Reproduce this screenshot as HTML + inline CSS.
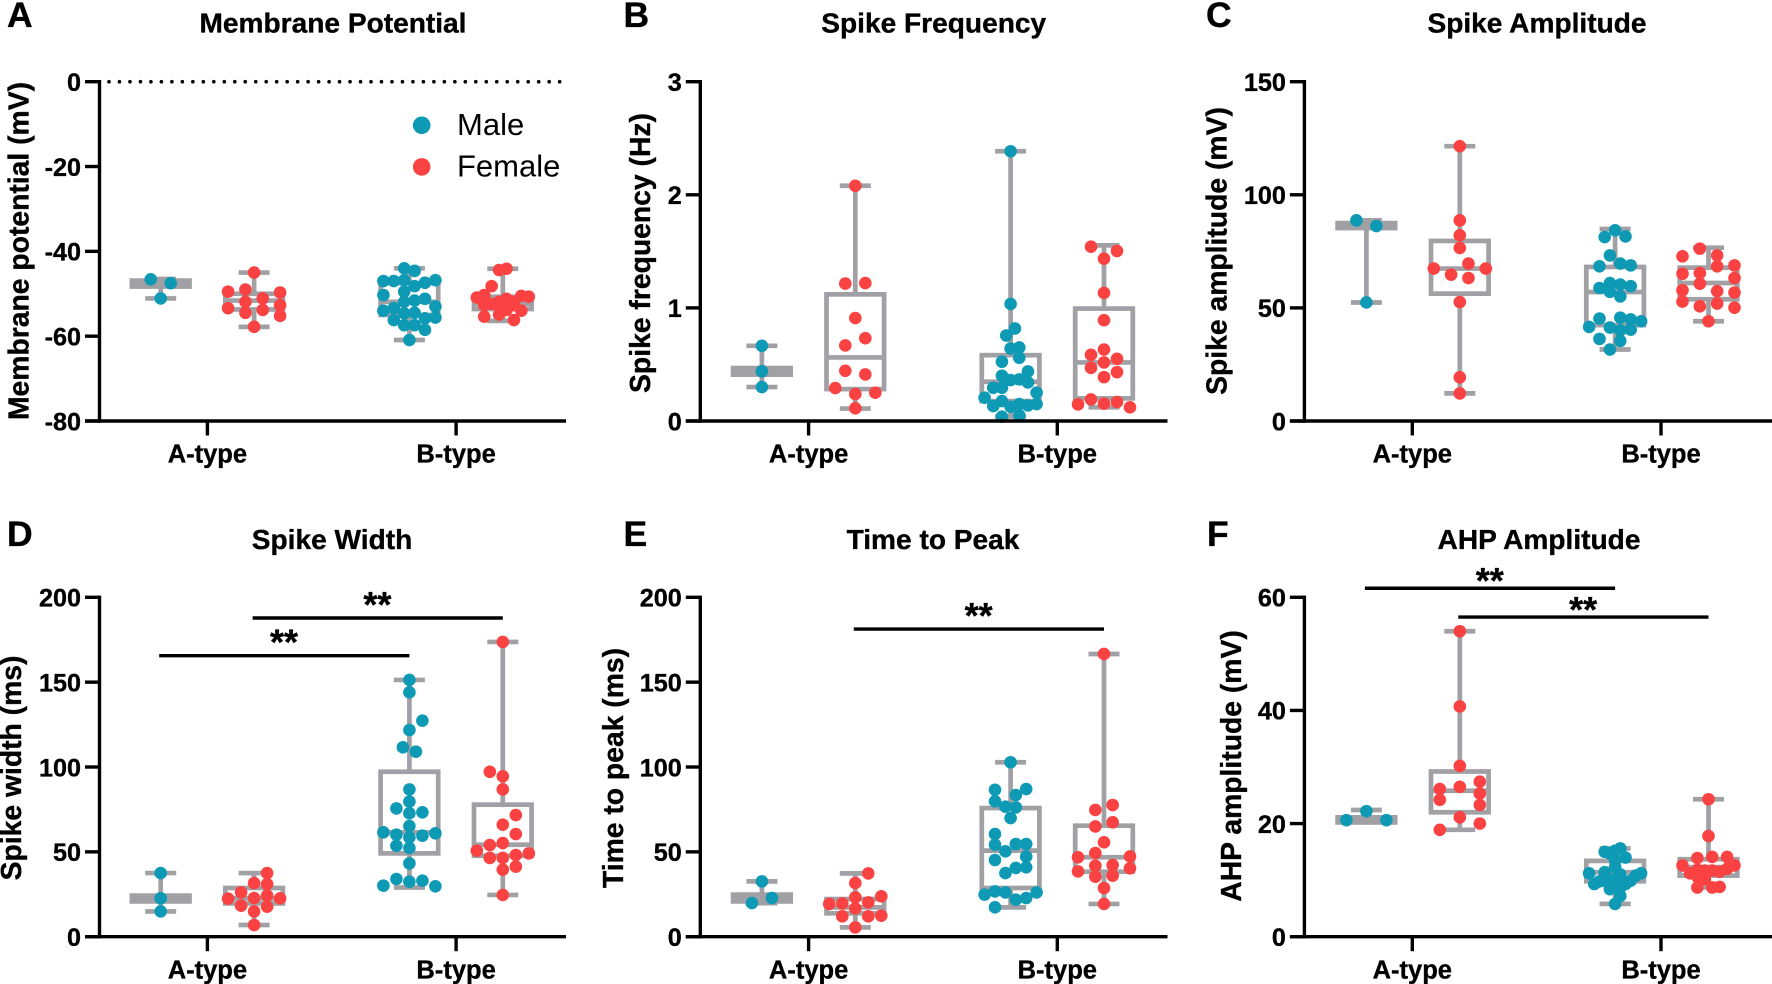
<!DOCTYPE html>
<html lang="en">
<head>
<meta charset="utf-8">
<title>Electrophysiology box plots</title>
<style>
html,body{margin:0;padding:0;background:#fff;}
svg{display:block;}
text{font-family:"Liberation Sans",Arial,sans-serif;fill:#000;}
text[font-weight="bold"]{stroke:#000;stroke-width:0.35px;}
</style>
</head>
<body>
<svg id="figure" xmlns="http://www.w3.org/2000/svg" width="1772" height="984" viewBox="0 0 1772 984"></svg>
<script>
// ---------- Shared data ----------
const _ = null; // empty swarm slot
const categories = ['A-type', 'B-type'];
const legendEntries = ['Male', 'Female'];

// ---------- Panel A: Membrane Potential ----------
const aTicks = [0, -20, -40, -60, -80];
const aMaleA = [[-46.6, -47.5], [-51.1]];
const aFemaleA = [[-45], [-49.5, -49, -51.1, -49.7], [-53.4, -51.9, -53.8, -52.7], [_, -54.5, _, -55.2], [-57.8]];
const aMaleB = [[-44, -44.6], [-47, -47, -46.8, -48.2, -47.4, -46.8], [-50.3, -53.4, -49.5, -51.6, -51.2, -53],
  [-54, -56.2, -51.9, -54.5, -55.8, -55.6], [_, _, -54.6, -57.4, -58.5, _], [_, _, -57.4, _, _, _], [-60.9]];
const aFemaleB = [[-44.4, -44.1], [-50.9, -50.3, -48.2, -51.9, -51.2, -51.9, -50.5, -50.7],
  [_, -52.7, -52.4, -52.9, -52.4, -52.7, -54, _], [_, -55.4, _, -54.9, -53.8, -56.2, _, _]];
const aBoxes = [[-51.1, -48.3, -47.5, -46.9, -46.5], [-57.8, -53.7, -51.6, -50, -45], [-60.9, -55, -51.9, -47.5, -44], [-56.4, -53.6, -52.4, -50.7, -44.1]];

// ---------- Panel B: Spike Frequency ----------
const bTicks = [0, 1, 2, 3];
const bMaleA = [[0.665], [0.44], [0.3]];
const bFemaleA = [[2.08], [1.215, 1.22], [0.91], [0.668, 0.732], [0.444, 0.412], [0.291, 0.238, 0.25], [0.112]];
const bMaleB = [[2.385], [1.035], [0.756, 0.818], [_, _, 0.524, 0.641, 0.65, _, _], [_, _, 0.4, _, 0.559, _, _],
  [_, 0.294, 0.294, 0.362, 0.368, 0.438, 0.25], [0.206, 0.132, 0.176, 0.126, 0.15, 0.341, 0.15], [_, _, 0.038, _, 0.05, 0.138, _]];
const bFemaleB = [[_, 1.541, _, 1.503, _], [1.435], [1.132], [0.891], [_, 0.585, 0.632, 0.55, _], [_, 0.47, 0.518, 0.432, _], [0.388],
  [0.147, 0.191, 0.153, 0.168, 0.121]];
const bBoxes = [[0.3, 0.41, 0.44, 0.468, 0.665], [0.11, 0.282, 0.562, 1.12, 2.08], [0.04, 0.176, 0.347, 0.582, 2.385], [0.121, 0.2, 0.518, 0.994, 1.553]];

// ---------- Panel C: Spike Amplitude ----------
const cTicks = [0, 50, 100, 150];
const cMaleA = [[88.7, 86.2], [52.4]];
const cFemaleA = [[121.5], [88.7], [82.1], [76.5], [67.4, 64.7, 69.6, 67.4], [_, _, 63.2, _], [52.6], [19.3], [12.2]];
const cMaleB = [[81.3, 84.3, 81.6], [_, 68.4, 73.2, 69.6, 68.8, _], [_, 58.8, 61, 60.3, 59.6, _], [_, _, 57.1, 55.1, _, _],
  [_, 45.3, 41.3, 45.7, 44.9, 44.1], [41.6, 36.3, 31.6, 40.1, 40.4, _], [_, _, _, 35.4, _, _]];
const cFemaleB = [[72.8, 76.2, 73.2, 68.8], [65.1, 65.4, 68.4, 63.2], [57.8, 60.7, 57.4, 56.8], [52.8, 50.7, 51.9, 50.1], [44.1]];
const cBoxes = [[52.4, 85.3, 86.2, 87.5, 88.7], [12.2, 56.3, 67.4, 79.6, 121.5], [31.6, 42.4, 57, 68.1, 84.9], [44.1, 53.8, 61, 67.8, 76.6]];

// ---------- Panel D: Spike Width ----------
const dTicks = [0, 50, 100, 150, 200];
const dMaleA = [[37.5], [22.6], [14.9]];
const dFemaleA = [[_, _, _, 37.5, _], [_, _, 31.6, 31, _], [_, 26.1, _, 24.2, _], [22.4, _, 22.8, _, 22.6], [_, 18.3, 14.9, 17.7, _], [6.9]];
const dMaleB = [[151.3], [144], [_, _, _, 127.3, _], [121.8], [111.6, 109], [86.8], [79.6], [_, 75.6, 72.7, 73.3, _], [65.2],
  [61.5, 60.1, 58.5, 59.5, 60.9], [_, 53.6, 52.3, _, _], [43.2], [30.1, 34, 32.4, 33, 29.7]];
const dFemaleB = [[173.7], [_, 97.2, 94.5, _, _], [86.8], [_, _, 66, 71.7, _], [_, _, _, 60.5, _], [_, 54, 55.2, _, _],
  [50.7, 46.4, 46.4, 48.1, 49.1], [_, _, 39.5, 41.3, _], [24.6]];
const dBoxes = [[14.9, 20.8, 22.6, 24.2, 37.5], [6.9, 19.6, 22.6, 28.7, 37.5], [29, 49.1, 61.5, 97.2, 151.3], [24.6, 47.7, 54.2, 77.8, 173.7]];
const dSignificance = [[1, 3, 187.8, '**'], [0, 2, 165.6, '**']];

// ---------- Panel E: Time to Peak ----------
const eTicks = [0, 50, 100, 150, 200];
const eMaleA = [[32.6], [19.8, 22.8]];
const eFemaleA = [[_, _, _, 37.3, _], [31.6], [_, _, 23.2, _, 23.8], [19.3, 19.6, 16.7, 20.2, _], [_, 12, _, 12, 12.4], [5.5]];
const eMaleB = [[102.8], [_, 86.6, _, 83.5, 87, _], [_, 79.8, 76.6, 76.2, _, _], [69.9], [_, 60.5, _, _, _, _], [_, 54.2, _, 54.6, 54.6, _],
  [_, 45.2, 50.3, 40.5, 47.2, _], [_, _, 37.5, _, 40.9, _], [24.8, 26.7, 26.1, 21.8, 22.8, 26.1], [_, 17.3, _, _, _, _]];
const eFemaleB = [[166.6], [_, 74.7, 77.6, _], [_, 65, 67.4, _], [55.6], [46.8, 49.3, _, 47.3], [_, 41.8, 42.2, _], [38.5, 35.4, 36, 40.3], [28.7], [19.3]];
const eBoxes = [[19.8, 20.8, 22.8, 24.8, 32.6], [5.5, 13.8, 17.3, 22.2, 37.3], [17.3, 28.7, 50.7, 75.8, 102.8], [19.3, 38.3, 46.8, 65.4, 166.6]];
const eSignificance = [[1, 3, 181.3, '**']];

// ---------- Panel F: AHP Amplitude ----------
const fTicks = [0, 20, 40, 60];
const fMaleA = [[22.2], [20.6, _, 20.6]];
const fFemaleA = [[54], [40.7], [30.2], [_, _, 27.4], [26.1, 26.5, 25.3], [24.2, _, 23.3], [_, 21.1, 20], [18.9, _, _]];
const fMaleB = [[_, _, _, 15, 14.7, 15.2, 15.6, 14, _, _, _], [13.4], [12.3], [11.2, _, _, 11.4, _, 10.2, 11, _, _, 10.8, 11.2],
  [_, 9.3, 9.8, 9.9, 9.3, _, 8.7, 9.3, 9.9, _, _], [_, _, _, _, 8.4, _, 7.2, _, _, _, _], [5.8]];
const fFemaleB = [[24.3], [17.8], [_, _, 13.9, _, 14.1, _, 14.1, _], [12.6, 11.2, 11.8, 11.7, 11.7, 11.5, 12, 12.6], [_, _, 10.6, 10.2, _, _, _, _], [_, _, 8.7, _, 8.7, 8.8, _, _]];
const fBoxes = [[20.6, 20.2, 20.6, 21.1, 22.4], [18.9, 22, 25.8, 29.2, 54], [5.8, 9.8, 11.4, 13.4, 15.6], [8.7, 10.8, 12.3, 13.7, 24.3]];
const fSignificance = [[0, 2, 61.6, '**'], [1, 3, 56.5, '**']];

// ---------- Rendering ----------
const NS = 'http://www.w3.org/2000/svg';
const figure = document.getElementById('figure');
const GRAY = '#a0a0a5', TEAL = '#0e9ab5', RED = '#fb4242';
const GROUP_NAMES = ['male-a-type', 'female-a-type', 'male-b-type', 'female-b-type'];
const GROUP_COLORS = [TEAL, RED, TEAL, RED];

function make(tag, attrs, parent, content) {
  const el = document.createElementNS(NS, tag);
  for (const k in attrs) el.setAttribute(k, attrs[k]);
  if (content !== undefined) el.textContent = content;
  parent.appendChild(el);
  return el;
}

function drawPanel(p) {
  const g = make('g', {}, figure);
  
  

  const domainMin = Math.min.apply(null, p.ticks);
  const domainMax = Math.max.apply(null, p.ticks);
  const yScale = v => p.bottom - (v - domainMin) / (domainMax - domainMin) * (p.bottom - p.top);
  const tickX = i => p.firstTick + i * 248.7;
  const groupX = k => tickX(Math.floor(k / 2)) + (k % 2 === 0 ? -46.7 : 46.7) + p.groupShift;

  const letter = make('text', {x: p.letterX, y: p.top === 81.7 ? 27 : 546, 'font-size': 35.5, 'font-weight': 'bold'}, g, p.letter);
  
  

  const title = make('text', {x: p.titleX, y: p.top === 81.7 ? 32.7 : 549, 'font-size': 28.1, 'font-weight': 'bold', 'text-anchor': 'middle'}, g, p.title);
  
  

  const yTitle = make('text', {transform: 'translate(' + p.yTitleX + ',' + p.yTitleY + ') rotate(-90)', 'font-size': 28.3, 'font-weight': 'bold', 'text-anchor': 'middle'}, g, p.yTitle);
  
  

  // Box plots
  p.boxes.forEach((b, k) => {
    const cx = groupX(k);
    const box = make('g', {stroke: GRAY, 'stroke-width': 4.7, fill: 'none'}, g);
    
    
    make('line', {x1: cx, x2: cx, y1: yScale(b[4]), y2: yScale(b[3])}, box);
    make('line', {x1: cx, x2: cx, y1: yScale(b[1]), y2: yScale(b[0])}, box);
    make('line', {x1: cx - 15.5, x2: cx + 15.5, y1: yScale(b[4]), y2: yScale(b[4])}, box);
    make('line', {x1: cx - 15.5, x2: cx + 15.5, y1: yScale(b[0]), y2: yScale(b[0])}, box);
    make('rect', {x: cx - 28.8, width: 57.6, y: yScale(b[3]), height: Math.max(0, yScale(b[1]) - yScale(b[3]))}, box);
    make('line', {x1: cx - 28.8, x2: cx + 28.8, y1: yScale(b[2]), y2: yScale(b[2])}, box);
  });

  // Swarm points
  p.groups.forEach((rows, k) => {
    const cx = groupX(k);
    const widest = Math.max.apply(null, rows.map(r => r.length));
    const spacing = widest > 1 ? Math.min(20, 52 / (widest - 1)) : 0;
    const swarm = make('g', {fill: GROUP_COLORS[k]}, g);
    
    
    rows.forEach(row => {
      row.forEach((v, i) => {
        if (v === null) return;
        const dot = make('circle', {cx: cx + (i - (row.length - 1) / 2) * spacing, cy: yScale(v), r: 6.3}, swarm);
        
        
      });
    });
  });

  // Axes
  const axes = make('g', {stroke: '#000', 'stroke-width': 3.4, fill: 'none'}, g);
  
  
  make('line', {x1: p.axisX, x2: p.axisX, y1: p.top - 1.7, y2: p.bottom + 1.7}, axes);
  make('line', {x1: p.axisX - 14.5, x2: p.right, y1: p.bottom, y2: p.bottom}, axes);

  p.ticks.forEach(t => {
    const y = yScale(t);
    make('line', {x1: p.axisX - 14.5, x2: p.axisX, y1: y, y2: y}, axes);
    const label = make('text', {x: p.axisX - 18.5, y: y + 9.3, 'font-size': 25.2, 'font-weight': 'bold', 'text-anchor': 'end'}, g, String(t));
    
    
  });

  categories.forEach((c, i) => {
    make('line', {x1: tickX(i), x2: tickX(i), y1: p.bottom, y2: p.bottom + 14.5}, axes);
    const label = make('text', {x: tickX(i), y: p.bottom + 41.6, 'font-size': 25.5, 'font-weight': 'bold', 'text-anchor': 'middle'}, g, c);
    
    
  });

  // Significance bars
  (p.significance || []).forEach(s => {
    const x1 = groupX(s[0]), x2 = groupX(s[1]), y = yScale(s[2]);
    const bar = make('line', {x1: x1 - 1.5, x2: x2, y1: y, y2: y, stroke: '#000', 'stroke-width': 3.4}, g);
    
    
    const star = make('text', {x: (x1 + x2) / 2 - 1, y: y + p.starOffset, 'font-size': 36, 'font-weight': 'bold', 'text-anchor': 'middle'}, g, s[3]);
    
    
  });
}

const TOP1 = 81.7, BOT1 = 421, TOP2 = 597.3, BOT2 = 936.7;
const panels = [
  {letter: 'A', title: 'Membrane Potential', yTitle: 'Membrane potential (mV)', ticks: aTicks, boxes: aBoxes, groups: [aMaleA, aFemaleA, aMaleB, aFemaleB], groupShift: 0,
   top: TOP1, bottom: BOT1, axisX: 99.5, right: 566, firstTick: 207.4, letterX: 7, titleX: 333, yTitleX: 28.3, yTitleY: 251},
  {letter: 'B', title: 'Spike Frequency', yTitle: 'Spike frequency (Hz)', ticks: bTicks, boxes: bBoxes, groups: [bMaleA, bFemaleA, bMaleB, bFemaleB], groupShift: 0,
   top: TOP1, bottom: BOT1, axisX: 700.3, right: 1167.5, firstTick: 808.6, letterX: 623.5, titleX: 933.7, yTitleX: 649.8, yTitleY: 253},
  {letter: 'C', title: 'Spike Amplitude', yTitle: 'Spike amplitude (mV)', ticks: cTicks, boxes: cBoxes, groups: [cMaleA, cFemaleA, cMaleB, cFemaleB], groupShift: 0.8,
   top: TOP1, bottom: BOT1, axisX: 1304.4, right: 1772, firstTick: 1412.3, letterX: 1206, titleX: 1537, yTitleX: 1226.7, yTitleY: 251},
  {letter: 'D', title: 'Spike Width', yTitle: 'Spike width (ms)', ticks: dTicks, boxes: dBoxes, groups: [dMaleA, dFemaleA, dMaleB, dFemaleB], significance: dSignificance, starOffset: -1, groupShift: 0,
   top: TOP2, bottom: BOT2, axisX: 99.5, right: 566, firstTick: 207.4, letterX: 7, titleX: 332, yTitleX: 21, yTitleY: 768},
  {letter: 'E', title: 'Time to Peak', yTitle: 'Time to peak (ms)', ticks: eTicks, boxes: eBoxes, groups: [eMaleA, eFemaleA, eMaleB, eFemaleB], significance: eSignificance, starOffset: -1, groupShift: 0,
   top: TOP2, bottom: BOT2, axisX: 700.3, right: 1167.5, firstTick: 808.6, letterX: 623.5, titleX: 933, yTitleX: 623, yTitleY: 768},
  {letter: 'F', title: 'AHP Amplitude', yTitle: 'AHP amplitude (mV)', ticks: fTicks, boxes: fBoxes, groups: [fMaleA, fFemaleA, fMaleB, fFemaleB], significance: fSignificance, starOffset: 5, groupShift: 0.8,
   top: TOP2, bottom: BOT2, axisX: 1304.4, right: 1772, firstTick: 1412.3, letterX: 1207, titleX: 1539, yTitleX: 1241, yTitleY: 766}
];
panels.forEach(drawPanel);

// Dotted zero line in panel A
const zeroLine = make('line', {x1: 109, x2: 561, y1: TOP1, y2: TOP1, stroke: '#000', 'stroke-width': 3.6, 'stroke-linecap': 'round', 'stroke-dasharray': '0.01 10.47'}, figure);



// Legend
const legend = make('g', {}, figure);


legendEntries.forEach((name, i) => {
  const entry = make('g', {}, legend);
  
  
  make('circle', {cx: 421.7, cy: 125.3 + i * 41.6, r: 8.8, fill: i === 0 ? TEAL : RED}, entry);
  make('text', {x: 457, y: 135 + i * 41.6, 'font-size': 31}, entry, name);
});
</script>
</body>
</html>
